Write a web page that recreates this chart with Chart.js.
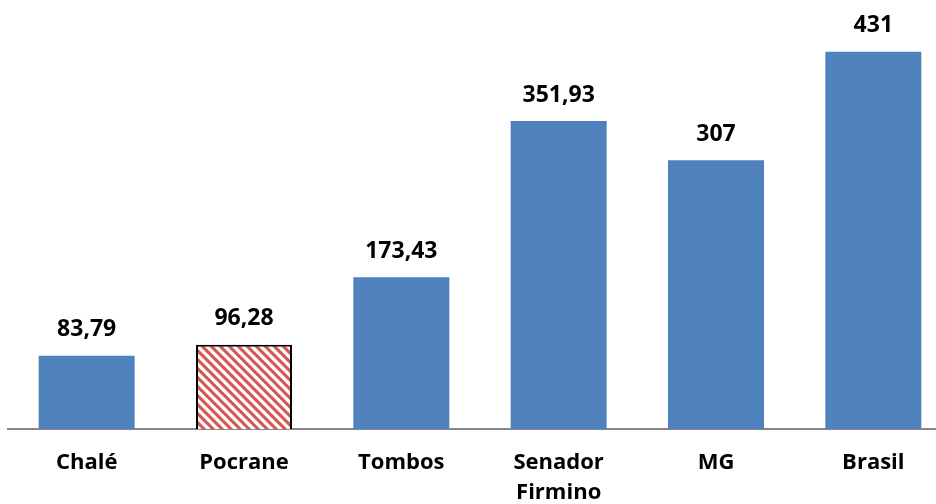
<!DOCTYPE html>
<html>
<head>
<meta charset="utf-8">
<script src="https://cdn.jsdelivr.net/npm/chart.js@4/dist/chart.umd.min.js"></script>
<style>
  html, body { margin: 0; padding: 0; background: #fff; overflow: hidden; }
  #wrap { width: 952px; height: 527px; }
</style>
</head>
<body>
<div id="wrap"><canvas id="myChart"></canvas></div>
<script>
const categories = ['Chalé', 'Pocrane', 'Tombos', ['Senador', 'Firmino'], 'MG', 'Brasil'];
const values = [83.79, 96.28, 173.43, 351.93, 307, 431];
const valueLabels = ['83,79', '96,28', '173,43', '351,93', '307', '431'];

const blue = '#4F81BD';
const font = '"Open Sans", "Liberation Sans", sans-serif';

// red/white diagonal stripes for Pocrane, drawn per pixel so the tile has no seams
function makeHatch() {
  const size = 9;
  const c = document.createElement('canvas');
  c.width = size; c.height = size;
  const g = c.getContext('2d');
  const img = g.createImageData(size, size);
  for (let y = 0; y < size; y++) {
    for (let x = 0; x < size; x++) {
      const d = (((x - y) % size) + size) % size;
      const t = 0.5 + 0.5 * Math.cos(2 * Math.PI * d / size); // 1 = red, 0 = white
      const k = Math.min(1, Math.max(0, (t - 0.25) / 0.5));
      const i = (y * size + x) * 4;
      img.data[i] = 255 + (214 - 255) * k;
      img.data[i + 1] = 255 + (86 - 255) * k;
      img.data[i + 2] = 255 + (82 - 255) * k;
      img.data[i + 3] = 255;
    }
  }
  g.putImageData(img, 0, 0);
  return g.createPattern(c, 'repeat');
}

const ctx = document.getElementById('myChart').getContext('2d');
const hatch = makeHatch();

const valueLabelPlugin = {
  id: 'valueLabels',
  afterDatasetsDraw(chart) {
    const c = chart.ctx;
    const meta = chart.getDatasetMeta(0);
    c.save();
    c.font = 'bold 23px ' + font;
    c.fillStyle = '#000';
    c.textAlign = 'center';
    c.textBaseline = 'middle';
    meta.data.forEach((bar, i) => {
      c.fillText(valueLabels[i], bar.x, bar.y - 26);
    });
    c.restore();
  }
};

const chart = new Chart(ctx, {
  type: 'bar',
  data: {
    labels: categories,
    datasets: [{
      data: values,
      backgroundColor: values.map((v, i) => i === 1 ? hatch : blue),
      borderColor: values.map((v, i) => i === 1 ? '#000' : blue),
      borderWidth: values.map((v, i) => i === 1 ? 2 : 0),
      barPercentage: 0.61,
      categoryPercentage: 1
    }]
  },
  options: {
    responsive: true,
    maintainAspectRatio: false,
    animation: false,
    layout: { padding: { left: 8, right: 0, top: 9, bottom: 0 } },
    plugins: {
      legend: { display: false },
      tooltip: { enabled: false }
    },
    scales: {
      x: {
        grid: { display: false, drawTicks: false },
        border: { color: '#868686', width: 2 },
        ticks: {
          color: '#000',
          padding: 19,
          font: { family: font, size: 22, weight: 'bold', lineHeight: 1.364 }
        }
      },
      y: {
        display: false,
        min: 0,
        max: 480
      }
    }
  },
  plugins: [valueLabelPlugin]
});
</script>
</body>
</html>
